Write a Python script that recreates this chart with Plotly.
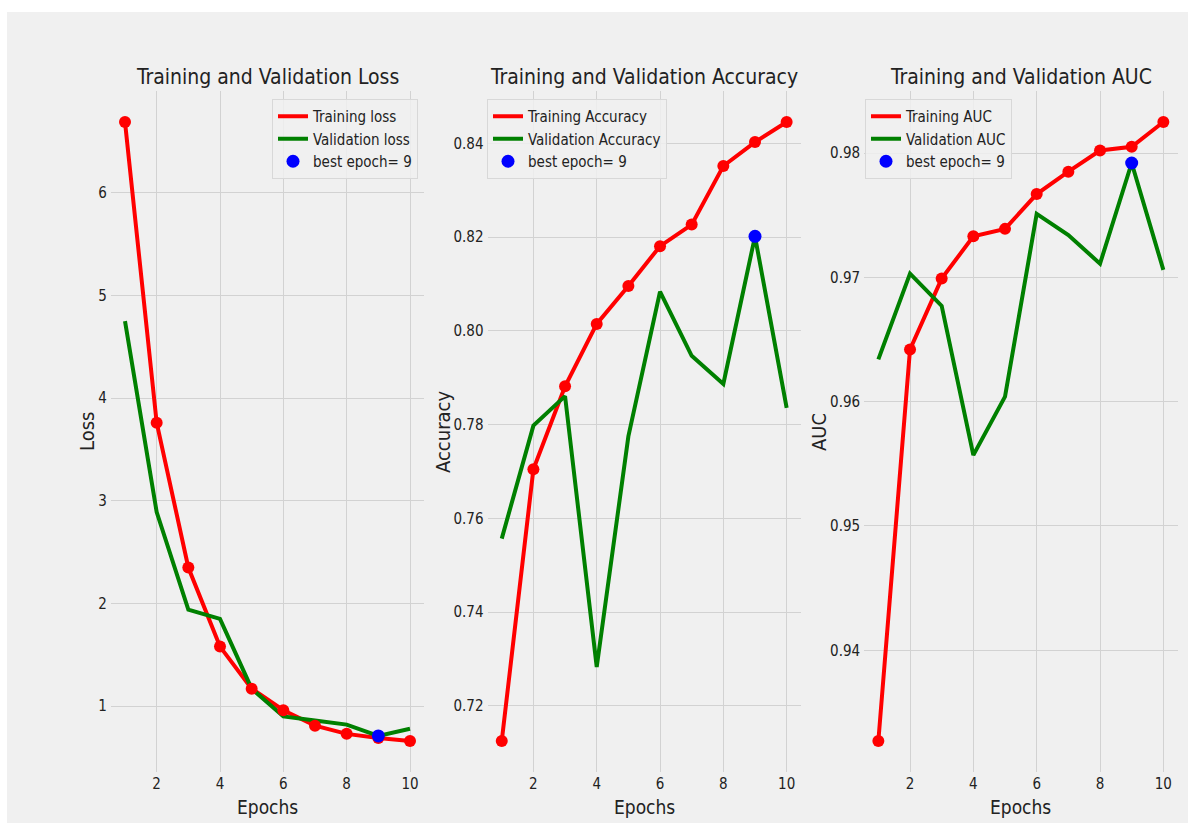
import plotly.graph_objects as go

epochs = [1, 2, 3, 4, 5, 6, 7, 8, 9, 10]

train_loss = [6.69, 3.76, 2.35, 1.58, 1.17, 0.96, 0.81, 0.73, 0.69, 0.66]
val_loss = [4.75, 2.89, 1.94, 1.85, 1.17, 0.90, 0.86, 0.82, 0.71, 0.78]

train_acc = [0.7125, 0.7705, 0.7882, 0.8015, 0.8096, 0.8181, 0.8227, 0.8352, 0.8403, 0.8446]
val_acc = [0.7557, 0.7798, 0.7861, 0.7283, 0.7775, 0.8084, 0.7947, 0.7887, 0.8202, 0.7836]

train_auc = [0.9327, 0.9642, 0.9699, 0.9733, 0.9739, 0.9767, 0.9785, 0.9802, 0.9805, 0.9825]
val_auc = [0.9634, 0.9703, 0.9677, 0.9557, 0.9604, 0.9751, 0.9734, 0.9711, 0.9792, 0.9706]

best_epoch = 9

titles = ["Training and Validation Loss", "Training and Validation Accuracy", "Training and Validation AUC"]
ylabels = ["Loss", "Accuracy", "AUC"]
train_names = ["Training loss", "Training Accuracy", "Training AUC"]
val_names = ["Validation loss", "Validation Accuracy", "Validation AUC"]
loss_ticks = [1, 2, 3, 4, 5, 6]
acc_ticks = [0.72, 0.74, 0.76, 0.78, 0.80, 0.82, 0.84]
auc_ticks = [0.94, 0.95, 0.96, 0.97, 0.98]
x_ticks = [2, 4, 6, 8, 10]

W, H = 1188, 823
FONT = "DejaVu Sans Condensed, DejaVu Sans, sans-serif"
BG = "#f0f0f0"
GRID = "#d2d2d2"

fig = go.Figure()

# pixel geometry of the three panels
px_left = [110.75, 487.5, 864.1]
px_right = [424.25, 800.9, 1177.6]
py_top, py_bot = 91, 772

panels = [
    (train_loss, val_loss, loss_ticks, "{:g}"),
    (train_acc, val_acc, acc_ticks, "{:.2f}"),
    (train_auc, val_auc, auc_ticks, "{:.2f}"),
]

legend_right = [418, 667, 1012]
legend_names = ["legend", "legend2", "legend3"]
ylab_pos = [87, 443, 819]

for i, (tr, va, yt, fmt) in enumerate(panels):
    sfx = "" if i == 0 else str(i + 1)
    xa, ya = "x" + sfx, "y" + sfx
    leg = legend_names[i]
    best_val = va[best_epoch - 1]
    fig.add_trace(go.Scatter(x=epochs, y=tr, mode="lines", name=train_names[i],
                             line=dict(color="red", width=4), xaxis=xa, yaxis=ya, legend=leg))
    fig.add_trace(go.Scatter(x=epochs, y=va, mode="lines", name=val_names[i],
                             line=dict(color="green", width=4), xaxis=xa, yaxis=ya, legend=leg))
    fig.add_trace(go.Scatter(x=epochs, y=tr, mode="markers", showlegend=False,
                             marker=dict(color="red", size=12), xaxis=xa, yaxis=ya, legend=leg))
    fig.add_trace(go.Scatter(x=[best_epoch], y=[best_val], mode="markers",
                             name="best epoch= " + str(best_epoch),
                             marker=dict(color="blue", size=13), xaxis=xa, yaxis=ya, legend=leg))

    lo = min(min(tr), min(va))
    hi = max(max(tr), max(va))
    m = (hi - lo) * 0.05
    xdom = [px_left[i] / W, px_right[i] / W]
    ydom = [1 - py_bot / H, 1 - py_top / H]
    common = dict(showline=False, zeroline=False, gridcolor=GRID, gridwidth=1.3,
                  tickfont=dict(family=FONT, size=15, color="#222222"), ticks="")
    fig.update_layout(**{
        "xaxis" + sfx: dict(domain=xdom, range=[0.55, 10.45], tickvals=x_ticks,
                            anchor=ya, ticklabelstandoff=1, **common),
        "yaxis" + sfx: dict(domain=ydom, range=[lo - m, hi + m], tickvals=yt,
                            ticktext=[fmt.format(v) for v in yt],
                            anchor=xa, ticklabelstandoff=3, **common),
    })
    cx = (px_left[i] + px_right[i]) / 2 / W
    fig.add_annotation(text=titles[i], x=cx, y=1 - 77 / H, xref="paper", yref="paper",
                       showarrow=False, xanchor="center", yanchor="middle",
                       font=dict(family=FONT, size=21, color="#222222"))
    fig.add_annotation(text="Epochs", x=cx, y=1 - 807 / H, xref="paper", yref="paper",
                       showarrow=False, xanchor="center", yanchor="middle",
                       font=dict(family=FONT, size=19, color="#222222"))
    fig.add_annotation(text=ylabels[i], x=ylab_pos[i] / W, y=1 - 432 / H, xref="paper", yref="paper",
                       showarrow=False, xanchor="center", yanchor="middle", textangle=-90,
                       font=dict(family=FONT, size=20, color="#222222"))
    fig.update_layout(**{leg: dict(
        x=legend_right[i] / W, y=1 - 99 / H, xanchor="right", yanchor="top",
        bgcolor="rgba(240,240,240,0.85)", bordercolor="#d8d8d8", borderwidth=1,
        font=dict(family=FONT, size=15, color="#222222"), itemwidth=30,
        traceorder="normal")})

fig.update_layout(
    width=W, height=H,
    margin=dict(l=0, r=0, t=0, b=0),
    paper_bgcolor="white",
    plot_bgcolor=BG,
    font=dict(family=FONT, color="#222222"),
    shapes=[dict(type="rect", xref="paper", yref="paper", x0=7 / W, x1=1, y0=0, y1=1 - 12 / H,
                 fillcolor=BG, line=dict(width=0), layer="below")],
)

fig.write_html("out.html")
